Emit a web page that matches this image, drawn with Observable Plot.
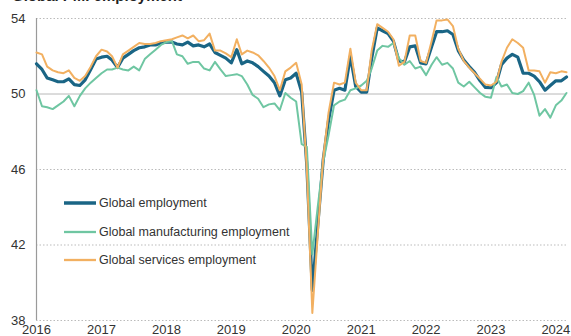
<!DOCTYPE html>
<html><head><meta charset="utf-8">
<script src="https://cdn.jsdelivr.net/npm/d3@7"></script>
<script src="https://cdn.jsdelivr.net/npm/@observablehq/plot@0.6"></script>
<style>
body{margin:0;background:#fff;font-family:"Liberation Sans",Arial,sans-serif;}
#wrap{position:relative;width:571px;height:336px;overflow:hidden;}
#title{position:absolute;left:12px;top:-12px;font-weight:bold;font-size:15px;color:#222;white-space:nowrap;line-height:16px;}
.lg{position:absolute;left:64px;height:16px;display:flex;align-items:center;font-size:12.5px;color:#333;white-space:nowrap;}
.lg svg{margin-right:3px;}
</style></head>
<body><div id="wrap"><div id="title">Global PMI employment</div><div id="chart"></div></div>
<script>
const seriesNames = ["Global employment","Global manufacturing employment","Global services employment"];
const seriesColors = ["#1a6585","#6fc6a2","#f2b061"];
const seriesWidths = [3.2,2,2];
const yTicks = [38,42,46,50,54];
const gridTicks = [38,42,46,54];
const xTickYears = [2016,2017,2018,2019,2020,2021,2022,2023,2024];

// monthly, Jan 2016 - Mar 2024
const employment = [
 51.6,51.3,50.85,50.75,50.65,50.65,50.8,50.5,50.45,50.75,51.3,51.85,
 51.95,52.0,51.8,51.4,51.9,52.1,52.3,52.45,52.5,52.6,52.6,52.7,
 52.75,52.75,52.65,52.6,52.75,52.55,52.6,52.5,52.65,52.2,52.05,51.9,
 51.65,52.35,51.6,51.75,51.65,51.45,51.2,50.95,50.6,49.9,50.75,50.85,
 51.1,50.1,46.2,39.6,43.0,46.5,48.6,50.2,50.3,50.2,52.0,50.4,
 50.1,50.1,51.9,53.5,53.35,53.2,52.8,51.75,51.7,52.5,52.55,51.65,
 51.6,52.5,53.3,53.3,53.35,53.15,52.3,51.8,51.45,51.15,50.7,50.35,
 50.33,50.6,51.55,51.9,52.1,51.95,51.1,51.1,50.95,50.65,50.2,50.45,
 50.7,50.7,50.9
];
const manufacturing = [
 50.2,49.35,49.3,49.2,49.4,49.6,49.9,49.35,49.9,50.3,50.6,50.85,
 51.1,51.3,51.3,51.4,51.3,51.25,51.45,51.25,51.85,52.1,52.35,52.6,
 52.75,52.8,52.1,52.0,51.6,51.7,51.7,51.35,51.25,51.7,51.3,50.95,
 51.0,51.05,50.95,50.5,49.95,49.75,49.3,49.45,49.5,49.15,50.05,49.8,
 49.6,47.35,47.2,41.5,44.0,46.4,47.8,49.4,49.6,49.7,50.2,50.3,
 50.45,50.7,51.35,52.3,52.55,52.5,52.7,51.9,51.55,51.75,51.35,51.45,
 51.0,51.55,51.95,51.55,51.65,51.35,50.6,50.4,50.65,50.35,50.05,49.85,
 49.8,50.9,50.4,50.5,50.05,50.0,50.15,50.6,49.95,48.85,49.2,48.75,
 49.4,49.65,50.05
];
const services = [
 52.2,52.1,51.45,51.25,51.15,51.1,51.25,50.85,50.7,50.95,51.45,52.0,
 52.35,52.25,52.0,51.4,52.1,52.3,52.5,52.7,52.65,52.65,52.7,52.8,
 52.85,52.9,53.0,53.1,52.95,53.1,52.8,52.85,53.2,52.3,52.3,52.15,
 51.95,52.9,52.1,52.3,52.2,52.05,51.75,51.4,50.95,50.2,51.2,51.4,
 51.65,50.5,46.0,38.4,42.5,46.6,49.0,50.6,50.5,50.6,52.4,50.6,
 50.2,50.2,52.3,53.7,53.5,53.3,52.9,51.5,51.7,53.1,53.1,51.75,
 51.65,52.8,53.9,53.9,53.95,53.6,52.4,51.75,51.4,51.1,50.8,50.5,
 50.45,50.65,51.7,52.45,52.9,52.7,52.45,51.25,51.25,51.2,50.6,51.15,
 51.1,51.2,51.15
];

const dates = d3.utcMonth.range(new Date(Date.UTC(2016,0,1)), new Date(Date.UTC(2024,3,1)));
const allValues = [employment, manufacturing, services];
const rows = [];
seriesNames.forEach((name,i)=>{
  dates.forEach((d,j)=>rows.push({date:d, value:allValues[i][j], series:name}));
});
const xTickDates = xTickYears.map(y=>new Date(Date.UTC(y,0,1)));

const chart = Plot.plot({
  width:571, height:336,
  marginTop:18, marginBottom:16, marginLeft:36, marginRight:5,
  style:{fontFamily:"'Liberation Sans', Arial, sans-serif", fontSize:"13px", color:"#333", background:"transparent", overflow:"visible"},
  x:{type:"utc", domain:[dates[0], dates[dates.length-1]], label:null},
  y:{domain:[38,54], label:null},
  color:{domain:seriesNames, range:seriesColors},
  marks:[
    Plot.gridY(gridTicks, {stroke:"#bbb", strokeOpacity:1, strokeDasharray:"1.5,2"}),
    Plot.ruleY([50], {stroke:"#b8b8b8"}),
    Plot.ruleX([dates[0]], {stroke:"#9a9a9a", strokeWidth:1.2}),
    Plot.axisY(yTicks, {tickSize:0, tickPadding:11, fontSize:13, fill:"#333", label:null}),
    Plot.axisX(xTickDates, {tickSize:0, tickPadding:4, fontSize:13, fill:"#333", label:null, tickFormat:d3.utcFormat("%Y")}),
    ...seriesNames.map((name,i)=>Plot.line(rows.filter(r=>r.series===name), {x:"date", y:"value", stroke:"series", strokeWidth:seriesWidths[i]}))
  ]
});
document.getElementById("chart").appendChild(chart);

const wrap = document.getElementById("wrap");
seriesNames.forEach((name,i)=>{
  const row = document.createElement("div");
  row.className = "lg";
  row.style.top = (195 + 28.5*i) + "px";
  row.innerHTML = `<svg width="32" height="6"><line x1="0" x2="32" y1="3" y2="3" stroke="${seriesColors[i]}" stroke-width="${seriesWidths[i]+0.3}"/></svg>`;
  row.appendChild(document.createTextNode(name));
  wrap.appendChild(row);
});
</script>
</body></html>
